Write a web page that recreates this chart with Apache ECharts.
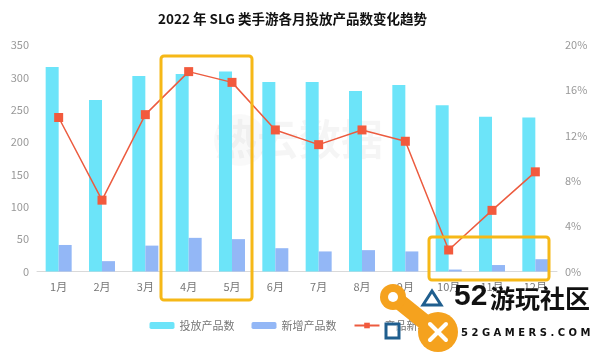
<!DOCTYPE html>
<html>
<head>
<meta charset="utf-8">
<script src="https://cdn.jsdelivr.net/npm/echarts@6/dist/echarts.min.js"></script>
<style>html,body{margin:0;padding:0;background:#fff}#c{width:600px;height:352px}</style>
</head>
<body>
<div id="c"></div>
<script>
var categories = ['1月','2月','3月','4月','5月','6月','7月','8月','9月','10月','11月','12月'];
var totalProducts = [316, 265, 302, 305, 309, 293, 293, 279, 288, 257, 239, 238];
var newProducts = [41, 16, 40, 52, 50, 36, 31, 33, 31, 3, 10, 19];
var newRatio = [13.6, 6.3, 13.85, 17.65, 16.7, 12.5, 11.2, 12.5, 11.5, 1.9, 5.4, 8.8];
var leftTicks = {min: 0, max: 350, interval: 50};
var rightTicks = {min: 0, max: 20, interval: 4};

var FONT = '"Noto Sans CJK SC", "Microsoft YaHei", sans-serif';
var chart = echarts.init(document.getElementById('c'));
var gold = '#F6B817';
var orange = '#F5A21E';
var navy = '#1F5E8E';

chart.setOption({
  animation: false,
  textStyle: {fontFamily: FONT},
  title: {
    text: '2022 年 SLG 类手游各月投放产品数变化趋势',
    left: 153, top: 7,
    textStyle: {fontSize: 13.5, fontWeight: 'bold', color: '#111', fontFamily: FONT}
  },
  legend: {
    bottom: 16, left: 'center',
    itemWidth: 25, itemHeight: 7, itemGap: 17,
    textStyle: {fontSize: 11, color: '#777', fontFamily: FONT},
    data: ['投放产品数', '新增产品数', '产品新增占比']
  },
  grid: {left: 37, right: 43, top: 45, bottom: 80.5},
  xAxis: {
    type: 'category', data: categories,
    axisLine: {lineStyle: {color: '#d9d9d9'}},
    axisTick: {show: false},
    axisLabel: {color: '#777', fontSize: 11, margin: 10}
  },
  yAxis: [{
    type: 'value', min: leftTicks.min, max: leftTicks.max, interval: leftTicks.interval,
    splitLine: {show: false},
    axisLine: {show: false}, axisTick: {show: false},
    axisLabel: {color: '#999', fontSize: 11, margin: 8}
  }, {
    type: 'value', min: rightTicks.min, max: rightTicks.max, interval: rightTicks.interval,
    splitLine: {show: false},
    axisLine: {show: false}, axisTick: {show: false},
    axisLabel: {color: '#999', fontSize: 11, margin: 8, formatter: '{value}%'}
  }],
  series: [{
    name: '投放产品数', type: 'bar', data: totalProducts,
    barWidth: 13, barGap: '0%',
    itemStyle: {color: '#6CE4F9'}
  }, {
    name: '新增产品数', type: 'bar', data: newProducts,
    barWidth: 13,
    itemStyle: {color: '#93B7F6'}
  }, {
    name: '产品新增占比', type: 'line', yAxisIndex: 1, data: newRatio,
    symbol: 'rect', symbolSize: 9,
    lineStyle: {color: '#EC5B3F', width: 1.5},
    itemStyle: {color: '#F25A3D'},
    z: 5
  }],
  graphic: [
    {type: 'text', left: 215, top: 118, z: 1, silent: true,
      style: {text: '热云数据', font: 'bold 42px ' + FONT, fill: 'rgba(0,0,0,0.04)'}},
    {type: 'circle', shape: {cx: 240, cy: 140, r: 26}, z: 1,
      style: {fill: 'rgba(0,0,0,0.025)'}},
    {type: 'rect', shape: {x: 161, y: 56, width: 91, height: 244, r: 3}, z: 50,
      style: {fill: 'none', stroke: gold, lineWidth: 3}},
    {type: 'rect', shape: {x: 429, y: 237, width: 120, height: 43, r: 3}, z: 50,
      style: {fill: 'none', stroke: gold, lineWidth: 3}},
    // logo
    {type: 'line', shape: {x1: 396, y1: 299, x2: 437, y2: 332}, z: 60,
      style: {stroke: orange, lineWidth: 16, lineCap: 'round'}},
    {type: 'circle', shape: {cx: 393, cy: 297, r: 13}, z: 61, style: {fill: orange}},
    {type: 'circle', shape: {cx: 393, cy: 297, r: 5}, z: 62, style: {fill: '#fff'}},
    {type: 'circle', shape: {cx: 438, cy: 332, r: 20}, z: 61, style: {fill: orange}},
    {type: 'line', shape: {x1: 430, y1: 324, x2: 446, y2: 340}, z: 62,
      style: {stroke: '#fff', lineWidth: 4, lineCap: 'round'}},
    {type: 'line', shape: {x1: 446, y1: 324, x2: 430, y2: 340}, z: 62,
      style: {stroke: '#fff', lineWidth: 4, lineCap: 'round'}},
    {type: 'polygon', shape: {points: [[432, 291], [441, 305], [423, 305]]}, z: 62,
      style: {fill: 'none', stroke: navy, lineWidth: 3}},
    {type: 'rect', shape: {x: 386, y: 324, width: 13, height: 14}, z: 62,
      style: {fill: 'rgba(255,255,255,0.6)', stroke: navy, lineWidth: 3}},
    {type: 'text', left: 454, top: 282, z: 63,
      style: {text: '52', font: 'bold 30px "Liberation Sans", sans-serif', fill: '#111'}},
    {type: 'text', left: 490, top: 286, z: 63,
      style: {text: '游玩社区', font: 'bold 25px ' + FONT, fill: '#111'}},
    {type: 'text', left: 461, top: 328, z: 63,
      style: {text: '5 2 G A M E R S . C O M', font: 'bold 10px "DejaVu Sans", sans-serif', fill: '#111'}}
  ]
});
</script>
</body>
</html>
